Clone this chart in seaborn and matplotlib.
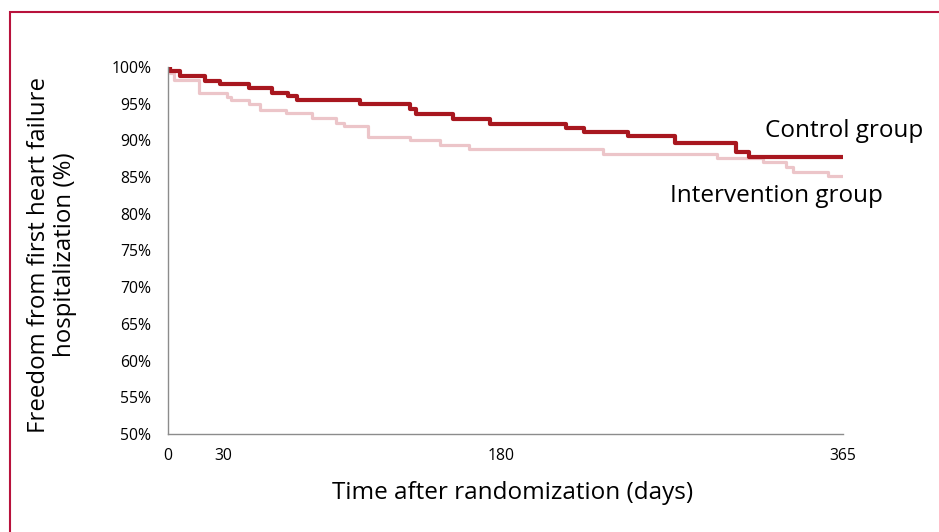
import pandas as pd
import matplotlib
matplotlib.use('Agg')
import matplotlib.pyplot as plt
import matplotlib.patches as patches
import seaborn as sns

# Kaplan-Meier style step data (day of change, level after)
control_days = [0, 1, 6.5, 20, 28, 44, 56, 65, 70, 104, 131, 134, 154, 174, 215, 225, 249, 274, 307, 314, 365]
control_pct = [100, 99.4, 98.8, 98.1, 97.7, 97.1, 96.5, 96.0, 95.5, 94.9, 94.3, 93.6, 92.9, 92.3, 91.7, 91.1,
               90.6, 89.7, 88.4, 87.8, 87.8]

interv_days = [0, 1, 3, 17, 32, 34, 44, 50, 64, 78, 91, 95, 108, 131, 147, 163, 235, 297, 322, 334, 338, 357, 365]
interv_pct = [100, 99.2, 98.2, 96.5, 95.95, 95.5, 94.9, 94.2, 93.7, 93.1, 92.4, 91.9, 90.5, 90.05, 89.4, 88.8,
              88.15, 87.6, 87.0, 86.4, 85.7, 85.1, 85.1]

x_ticks = [0, 30, 180, 365]
y_ticks = [50, 55, 60, 65, 70, 75, 80, 85, 90, 95, 100]

df = pd.concat([
    pd.DataFrame({'day': interv_days, 'pct': interv_pct, 'group': 'Intervention group'}),
    pd.DataFrame({'day': control_days, 'pct': control_pct, 'group': 'Control group'}),
])

sns.set_style('white')
plt.rcParams['font.family'] = ['Open Sans', 'DejaVu Sans']
plt.rcParams['text.color'] = 'black'

fig = plt.figure(figsize=(9.39, 5.32), dpi=100)
ax = fig.add_axes([168 / 939, 1 - 434 / 532, (843 - 168) / 939, (434 - 67) / 532])

palette = {'Intervention group': '#ecc5c9', 'Control group': '#a8171f'}
sizes = {'Intervention group': 2.3, 'Control group': 3.0}
for name in ['Intervention group', 'Control group']:
    sub = df[df['group'] == name]
    sns.lineplot(data=sub, x='day', y='pct', ax=ax, color=palette[name],
                 linewidth=sizes[name], drawstyle='steps-post', legend=False)

ax.set_xlim(0, 365)
ax.set_ylim(50, 100)
ax.set_xticks(x_ticks)
ax.set_xticklabels([str(t) for t in x_ticks])
ax.set_yticks(y_ticks)
ax.set_yticklabels([f'{t}%' for t in y_ticks])
ax.tick_params(axis='both', length=0, labelsize=11.3, colors='black')
ax.tick_params(axis='x', pad=10)
ax.tick_params(axis='y', pad=12)
ax.set_xlabel('')
ax.set_ylabel('')

for side in ['top', 'right']:
    ax.spines[side].set_visible(False)
for side in ['left', 'bottom']:
    ax.spines[side].set_color('#8c8c8c')
    ax.spines[side].set_linewidth(1.0)

ax.text(323, 91.3, 'Control group', fontsize=17.5, ha='left', va='center')
ax.text(271.5, 82.4, 'Intervention group', fontsize=17.5, ha='left', va='center')

fig.text(513 / 939, 1 - 493 / 532, 'Time after randomization (days)', fontsize=17.5,
         ha='center', va='center')
fig.text(52 / 939, 1 - 255 / 532, 'Freedom from first heart failure\nhospitalization (%)',
         fontsize=17.3, rotation=90, ha='center', va='center', multialignment='center',
         linespacing=1.1)

# red frame around the figure
frame = patches.Rectangle((10 / 939, -0.2), 1.2, 1 - 12 / 532 + 0.2, transform=fig.transFigure,
                          fill=False, edgecolor='#b8123c', linewidth=1.5)
fig.patches.append(frame)

fig.savefig('out.png', dpi=100)
